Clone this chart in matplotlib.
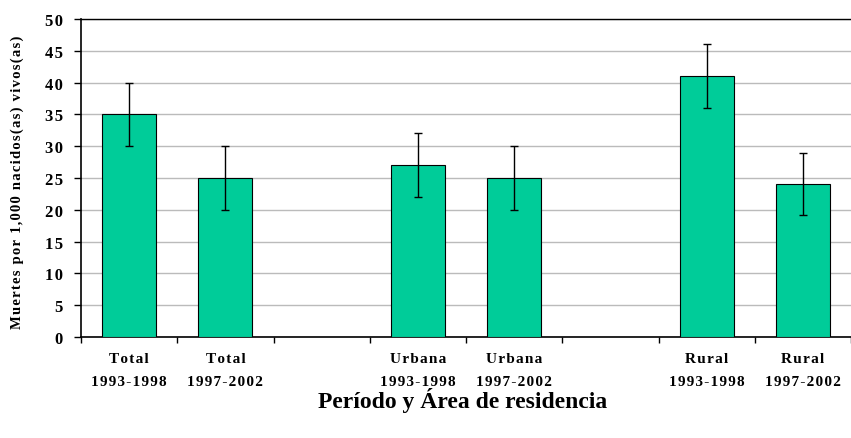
import matplotlib
matplotlib.use('Agg')
import matplotlib.pyplot as plt
import numpy as np

plt.rcParams['font.family'] = ['Liberation Serif', 'DejaVu Serif']
plt.rcParams['font.weight'] = 'bold'

# Data (empty slots keep the gaps between groups)
labels = ['Total\n1993-1998', 'Total\n1997-2002', '',
          'Urbana\n1993-1998', 'Urbana\n1997-2002', '',
          'Rural\n1993-1998', 'Rural\n1997-2002']
values = [35, 25, np.nan, 27, 25, np.nan, 41, 24.1]
errors = [5, 5, np.nan, 5, 5, np.nan, 5, 4.9]


def spaced(s, sp='\u200a'):
    # the original uses letter-spaced text
    return '\n'.join(sp.join(line) for line in s.split('\n'))


x = np.arange(len(labels))

fig = plt.figure(figsize=(8.51, 4.39), dpi=100)
ax = fig.add_axes([81 / 851, 1 - 338 / 439, 1 - 81 / 851, 318 / 439])

ax.bar(x, values, width=0.56, color='#00CC99', edgecolor='black', linewidth=0.8,
       yerr=errors, capsize=3, error_kw={'elinewidth': 1, 'capthick': 1, 'ecolor': 'black'},
       zorder=3)

ax.set_ylim(0, 50)
yt = np.arange(0, 51, 5)
ax.set_yticks(yt)
ax.set_yticklabels([spaced(str(v)) for v in yt], fontsize=12, fontweight='bold')
ax.set_xlim(-0.5, 7.44)
ax.set_xticks(x)
ax.set_xticklabels([spaced(l) for l in labels], fontsize=11, fontweight='bold', linespacing=2.0)
ax.set_xticks(np.arange(-0.5, 8, 1), minor=True)
ax.tick_params(axis='x', which='major', length=0, pad=10.5)
ax.tick_params(axis='x', which='minor', length=4, width=1, direction='out')
ax.tick_params(axis='y', length=5, width=1, direction='out', pad=8)

ax.yaxis.grid(True, color='#bbbbbb', linewidth=1, zorder=0)
ax.spines['right'].set_visible(False)
ax.spines['left'].set_linewidth(1.2)
ax.spines['bottom'].set_linewidth(1.2)
ax.spines['top'].set_linewidth(1)

fig.text(17 / 851, 1 - 182 / 439, spaced('Muertes por 1,000 nacidos(as) vivos(as)'), fontsize=10.5,
         fontweight='bold', rotation=90, ha='center', va='center')
fig.text(463 / 851, 1 - 401 / 439, 'Período y Área de residencia', fontsize=17, fontweight='bold',
         ha='center', va='center')

fig.savefig('out.png', dpi=100)
